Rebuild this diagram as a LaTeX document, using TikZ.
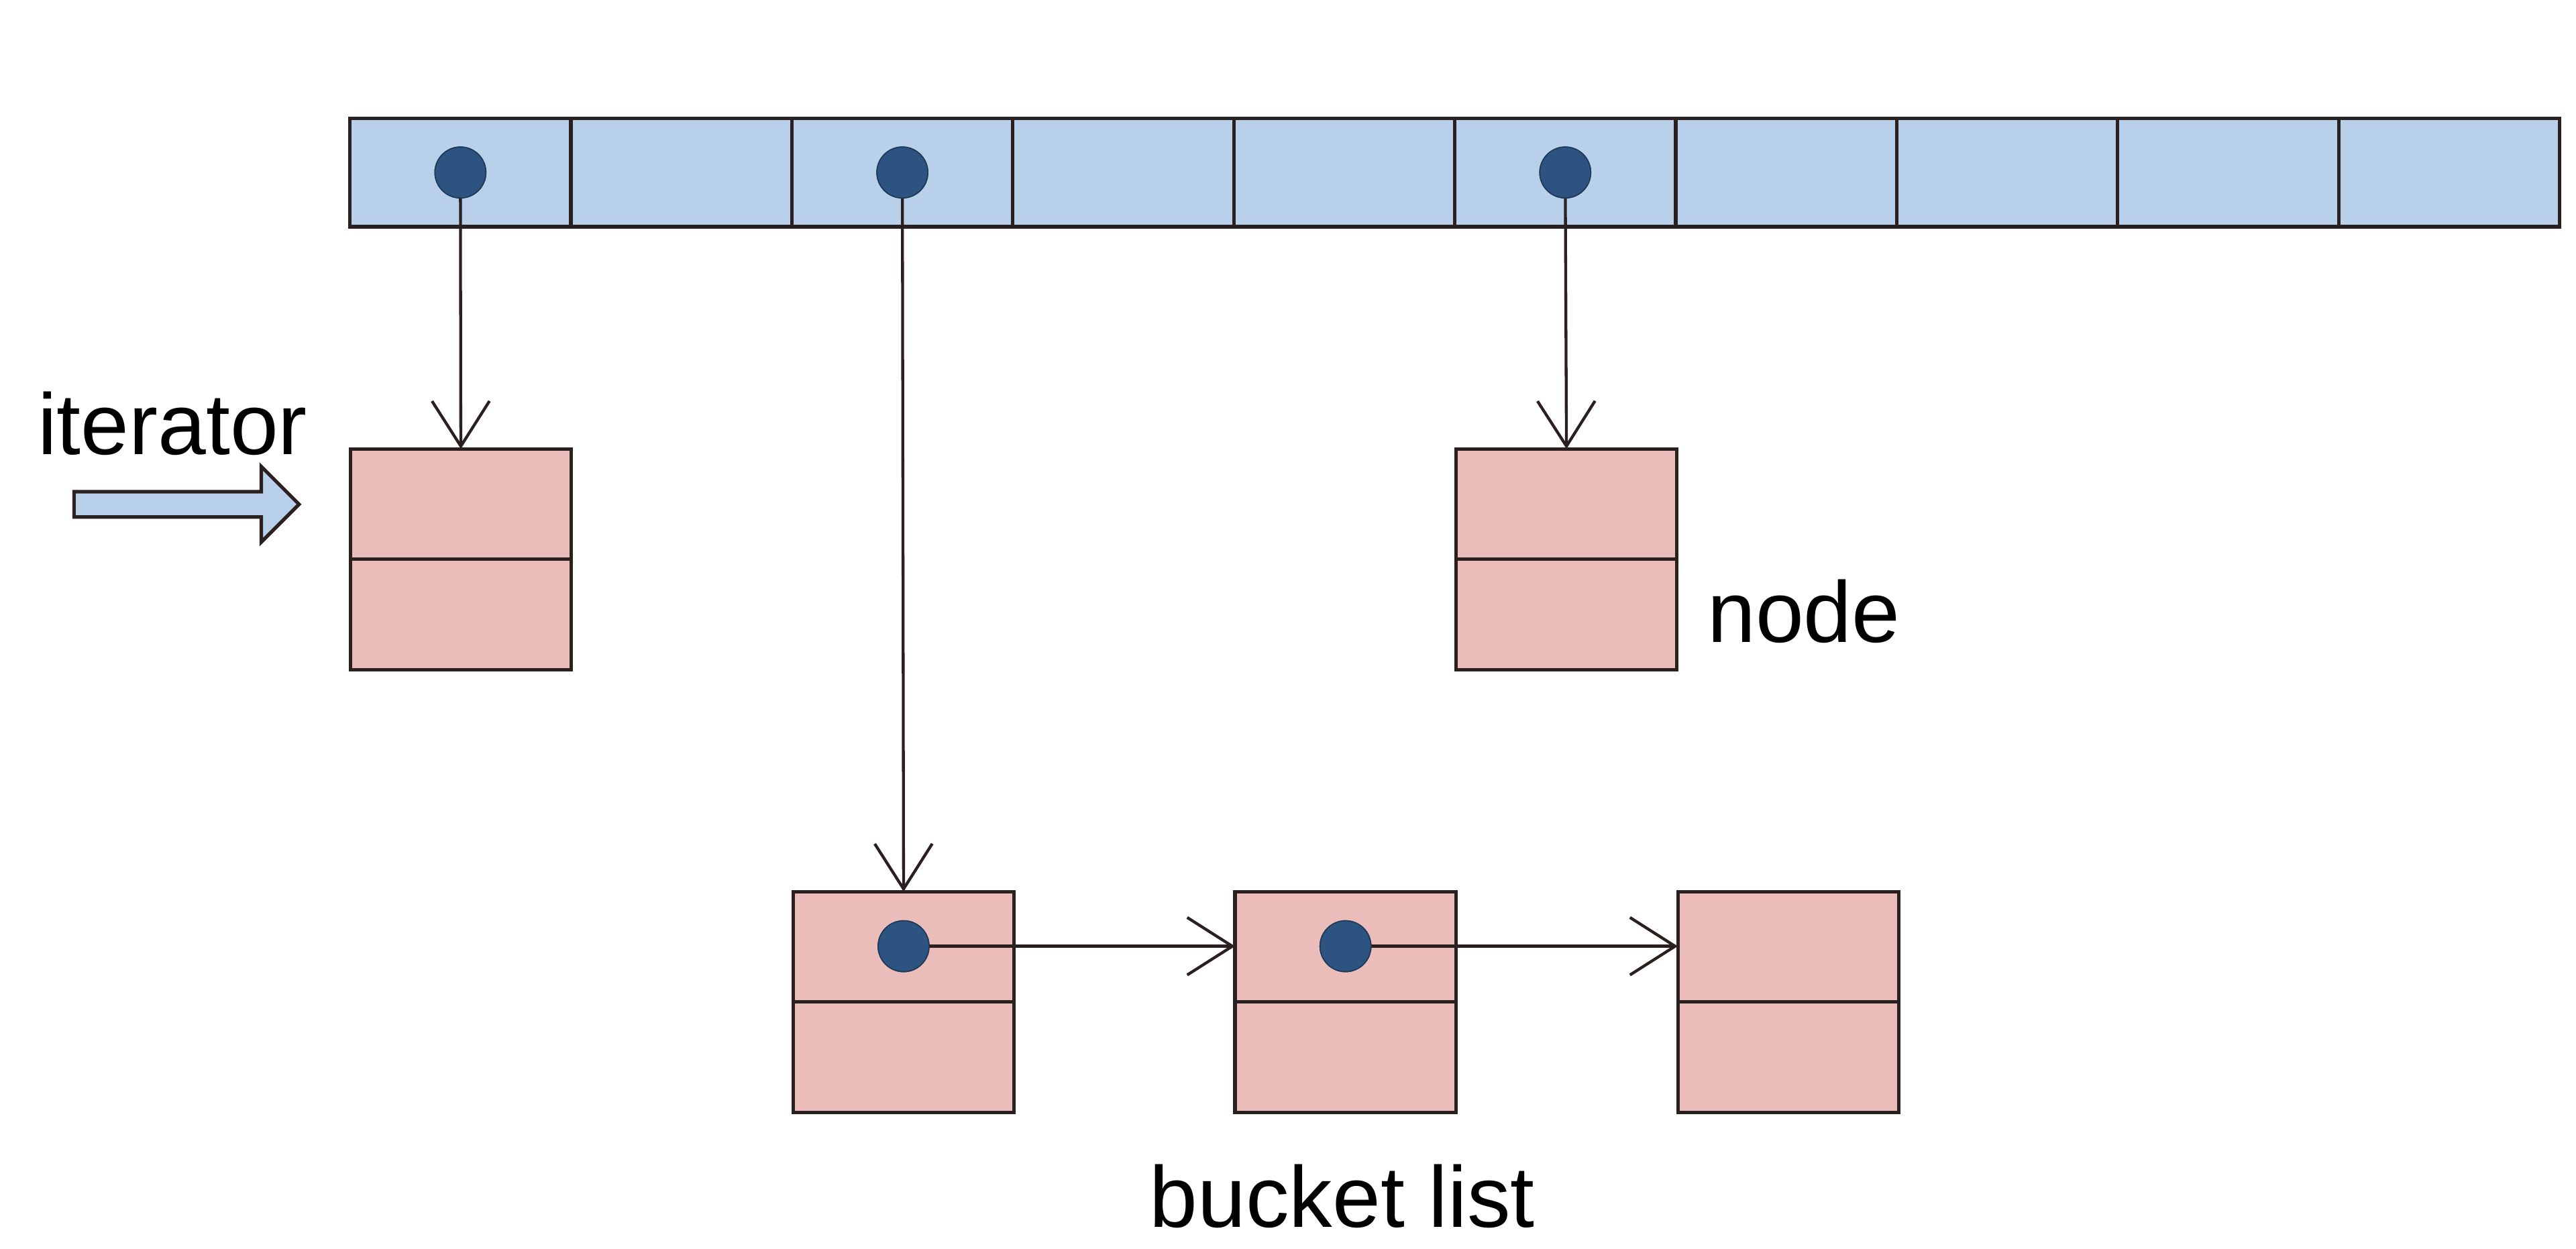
\documentclass[tikz,border=0pt]{standalone}
\usepackage{fontspec}
\setmainfont{Liberation Sans}
\usetikzlibrary{arrows.meta,shapes.arrows}
\definecolor{arr}{HTML}{B9D0EA}
\definecolor{nod}{HTML}{EBBDBA}
\definecolor{edge}{HTML}{2A2020}
\definecolor{dotc}{HTML}{2D5481}
\begin{document}
\begin{tikzpicture}[x=0.02cm,y=-0.02cm,
  cell/.style={draw=edge,line width=1.2pt,fill=arr,minimum width=2.69cm,minimum height=1.32cm,inner sep=0,outer sep=0},
  box/.style={draw=edge,line width=1.2pt,fill=nod,minimum width=2.69cm,minimum height=2.69cm,inner sep=0,outer sep=0},
  dot/.style={circle,fill=dotc,draw=dotc!70!black,minimum size=0.62cm,inner sep=0},
  ptr/.style={draw=edge,line width=1pt,-{Straight Barb[length=0.55cm,width=0.7cm,line width=1pt]}},
  lbl/.style={font=\fontsize{30}{36}\selectfont,text=black,inner sep=0}]
\useasboundingbox (0,0) rectangle (1568,760);
\foreach \i in {0,...,9}{
  \node[cell] (c\i) at ({213+134.5*\i+67.25},105) {};
}
\node[box] (n1) at (280.5,340.5) {};
\node[box] (n2) at (953.5,340.5) {};
\node[box] (b1) at (550,610) {};
\node[box] (b2) at (819,610) {};
\node[box] (b3) at (1088.5,610) {};
\foreach \n in {n1,n2,b1,b2,b3}{
  \draw[edge,line width=1.2pt] (\n.west) -- (\n.east);
}
\node[dot] (d0) at (c0.center) {};
\node[dot] (d2) at (c2.center) {};
\node[dot] (d5) at (c5.center) {};
\node[dot] (e1) at (550,576) {};
\node[dot] (e2) at (819,576) {};
\draw[ptr] (d0.center) -- (n1.north);
\draw[ptr] (d2.center) -- (b1.north);
\draw[ptr] (d5.center) -- (n2.north);
\coordinate (t2) at (b2.west |- e1);
\coordinate (t3) at (b3.west |- e2);
\draw[ptr] (e1.center) -- (t2);
\draw[ptr] (e2.center) -- (t3);
\node[dot] at (c0.center) {};
\node[dot] at (c2.center) {};
\node[dot] at (c5.center) {};
\node[dot] at (550,576) {};
\node[dot] at (819,576) {};
\node[lbl] (it) at (105,258) {iterator};
\node[single arrow,draw=edge,line width=1.2pt,fill=arr,minimum height=2.74cm,minimum width=0.92cm,single arrow head extend=0.24cm,single arrow tip angle=90,inner sep=0.1cm,anchor=west] (ia) at (44,307) {};
\node[lbl] (nl) at (1098,372) {node};
\node[lbl] (bl) at (817,728) {bucket list};
\end{tikzpicture}
\end{document}
